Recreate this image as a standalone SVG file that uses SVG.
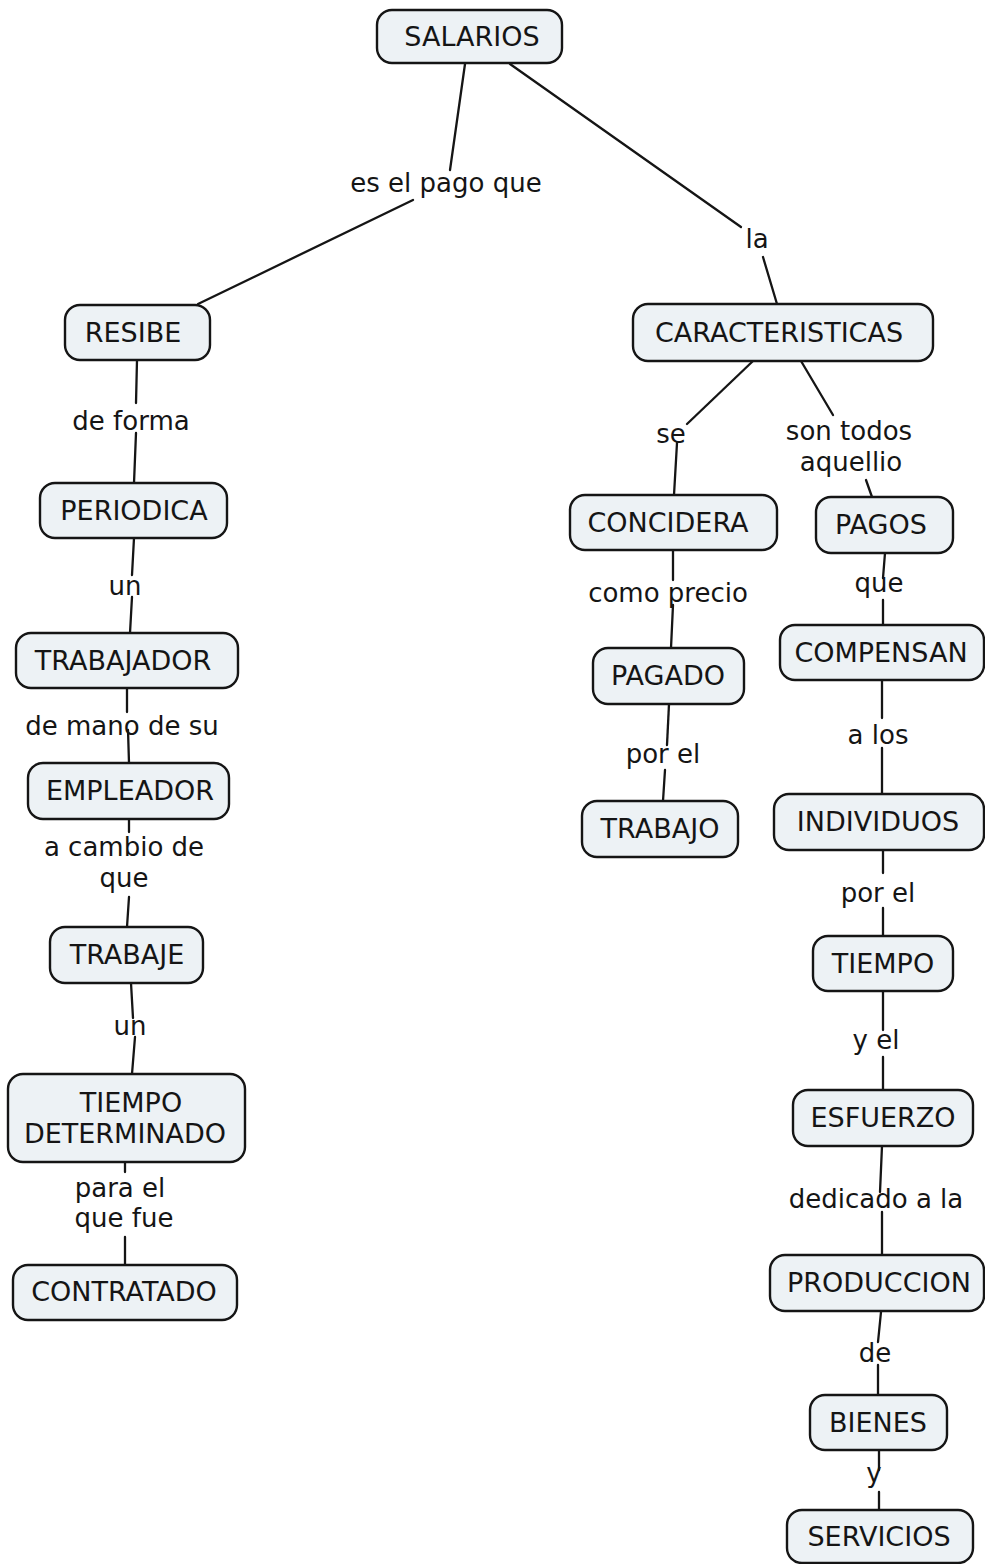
<svg xmlns="http://www.w3.org/2000/svg" width="985" height="1564" viewBox="0 0 985 1564">
<style>
.bg{fill:#ffffff}
.n rect{fill:#edf2f5;stroke:#151515;stroke-width:2.4}
.n text{font-family:"DejaVu Sans",Verdana,sans-serif;font-size:27px;fill:#151515;text-anchor:middle}
.c line{stroke:#151515;stroke-width:2.3;stroke-linecap:round}
.l text{font-family:"DejaVu Sans",Verdana,sans-serif;font-size:26px;fill:#151515;text-anchor:middle}
</style>
<rect class="bg" x="0" y="0" width="985" height="1564"/>
<g id="connectors" class="c">
<line x1="465" y1="64" x2="450" y2="170"/>
<line x1="413" y1="200" x2="198" y2="304"/>
<line x1="510" y1="64" x2="741" y2="227"/>
<line x1="763" y1="257" x2="777" y2="304"/>
<line x1="137" y1="360" x2="136" y2="403"/>
<line x1="136" y1="433" x2="134" y2="483"/>
<line x1="134" y1="538" x2="132" y2="575"/>
<line x1="132" y1="597" x2="130" y2="633"/>
<line x1="127" y1="688" x2="127" y2="712"/>
<line x1="128" y1="730" x2="129" y2="763"/>
<line x1="129" y1="819" x2="129" y2="832"/>
<line x1="129" y1="897" x2="127" y2="927"/>
<line x1="131" y1="983" x2="133" y2="1018"/>
<line x1="135" y1="1037" x2="132" y2="1074"/>
<line x1="125" y1="1162" x2="125" y2="1172"/>
<line x1="125" y1="1237" x2="125" y2="1265"/>
<line x1="753" y1="361" x2="687" y2="424"/>
<line x1="677" y1="443" x2="674" y2="495"/>
<line x1="801" y1="361" x2="833" y2="415"/>
<line x1="866" y1="480" x2="872" y2="497"/>
<line x1="673" y1="550" x2="673" y2="580"/>
<line x1="673" y1="605" x2="671" y2="648"/>
<line x1="885" y1="553" x2="883" y2="578"/>
<line x1="883" y1="600" x2="883" y2="625"/>
<line x1="882" y1="680" x2="882" y2="718"/>
<line x1="882" y1="748" x2="882" y2="794"/>
<line x1="669" y1="704" x2="667" y2="745"/>
<line x1="665" y1="770" x2="663" y2="801"/>
<line x1="883" y1="850" x2="883" y2="873"/>
<line x1="883" y1="908" x2="883" y2="936"/>
<line x1="883" y1="991" x2="883" y2="1030"/>
<line x1="883" y1="1057" x2="883" y2="1090"/>
<line x1="882" y1="1146" x2="880" y2="1192"/>
<line x1="882" y1="1212" x2="882" y2="1255"/>
<line x1="881" y1="1312" x2="878" y2="1342"/>
<line x1="878" y1="1365" x2="878" y2="1395"/>
<line x1="879" y1="1450" x2="879" y2="1470"/>
<line x1="879" y1="1492" x2="879" y2="1510"/>
</g>
<g id="labels" class="l">
<text x="446" y="192">es el pago que</text>
<text x="757" y="248">la</text>
<text x="131" y="430">de forma</text>
<text x="125" y="595">un</text>
<text x="122" y="735">de mano de su</text>
<text x="124" y="856">a cambio de</text>
<text x="124" y="887">que</text>
<text x="130" y="1035">un</text>
<text x="120" y="1197">para el</text>
<text x="124" y="1227">que fue</text>
<text x="671" y="443">se</text>
<text x="849" y="440">son todos</text>
<text x="851" y="471">aquellio</text>
<text x="668" y="602">como precio</text>
<text x="879" y="592">que</text>
<text x="878" y="744">a los</text>
<text x="663" y="763">por el</text>
<text x="878" y="902">por el</text>
<text x="876" y="1049">y el</text>
<text x="876" y="1208">dedicado a la</text>
<text x="875" y="1362">de</text>
<text x="874" y="1482">y</text>
</g>
<g id="n-salarios" class="n"><rect x="377" y="10" width="185" height="53" rx="15"/><text x="472" y="46">SALARIOS</text></g>
<g id="n-resibe" class="n"><rect x="65" y="305" width="145" height="55" rx="15"/><text x="133" y="342">RESIBE</text></g>
<g id="n-periodica" class="n"><rect x="40" y="483" width="187" height="55" rx="15"/><text x="134" y="520">PERIODICA</text></g>
<g id="n-trabajador" class="n"><rect x="16" y="633" width="222" height="55" rx="15"/><text x="123" y="670">TRABAJADOR</text></g>
<g id="n-empleador" class="n"><rect x="28" y="763" width="201" height="56" rx="15"/><text x="130" y="800">EMPLEADOR</text></g>
<g id="n-trabaje" class="n"><rect x="50" y="927" width="153" height="56" rx="15"/><text x="127" y="964">TRABAJE</text></g>
<g id="n-tiempo-determinado" class="n"><rect x="8" y="1074" width="237" height="88" rx="15"/><text x="131" y="1112">TIEMPO</text><text x="125" y="1143">DETERMINADO</text></g>
<g id="n-contratado" class="n"><rect x="13" y="1265" width="224" height="55" rx="15"/><text x="124" y="1301">CONTRATADO</text></g>
<g id="n-caracteristicas" class="n"><rect x="633" y="304" width="300" height="57" rx="15"/><text x="779" y="342">CARACTERISTICAS</text></g>
<g id="n-concidera" class="n"><rect x="570" y="495" width="207" height="55" rx="15"/><text x="668" y="532">CONCIDERA</text></g>
<g id="n-pagos" class="n"><rect x="816" y="497" width="137" height="56" rx="15"/><text x="881" y="534">PAGOS</text></g>
<g id="n-compensan" class="n"><rect x="780" y="625" width="204" height="55" rx="15"/><text x="881" y="662">COMPENSAN</text></g>
<g id="n-pagado" class="n"><rect x="593" y="648" width="151" height="56" rx="15"/><text x="668" y="685">PAGADO</text></g>
<g id="n-trabajo" class="n"><rect x="582" y="801" width="156" height="56" rx="15"/><text x="660" y="838">TRABAJO</text></g>
<g id="n-individuos" class="n"><rect x="774" y="794" width="210" height="56" rx="15"/><text x="878" y="831">INDIVIDUOS</text></g>
<g id="n-tiempo" class="n"><rect x="813" y="936" width="140" height="55" rx="15"/><text x="883" y="973">TIEMPO</text></g>
<g id="n-esfuerzo" class="n"><rect x="793" y="1090" width="180" height="56" rx="15"/><text x="883" y="1127">ESFUERZO</text></g>
<g id="n-produccion" class="n"><rect x="770" y="1255" width="214" height="56" rx="15"/><text x="879" y="1292">PRODUCCION</text></g>
<g id="n-bienes" class="n"><rect x="810" y="1395" width="137" height="55" rx="15"/><text x="878" y="1432">BIENES</text></g>
<g id="n-servicios" class="n"><rect x="787" y="1510" width="186" height="53" rx="15"/><text x="879" y="1546">SERVICIOS</text></g>
</svg>
